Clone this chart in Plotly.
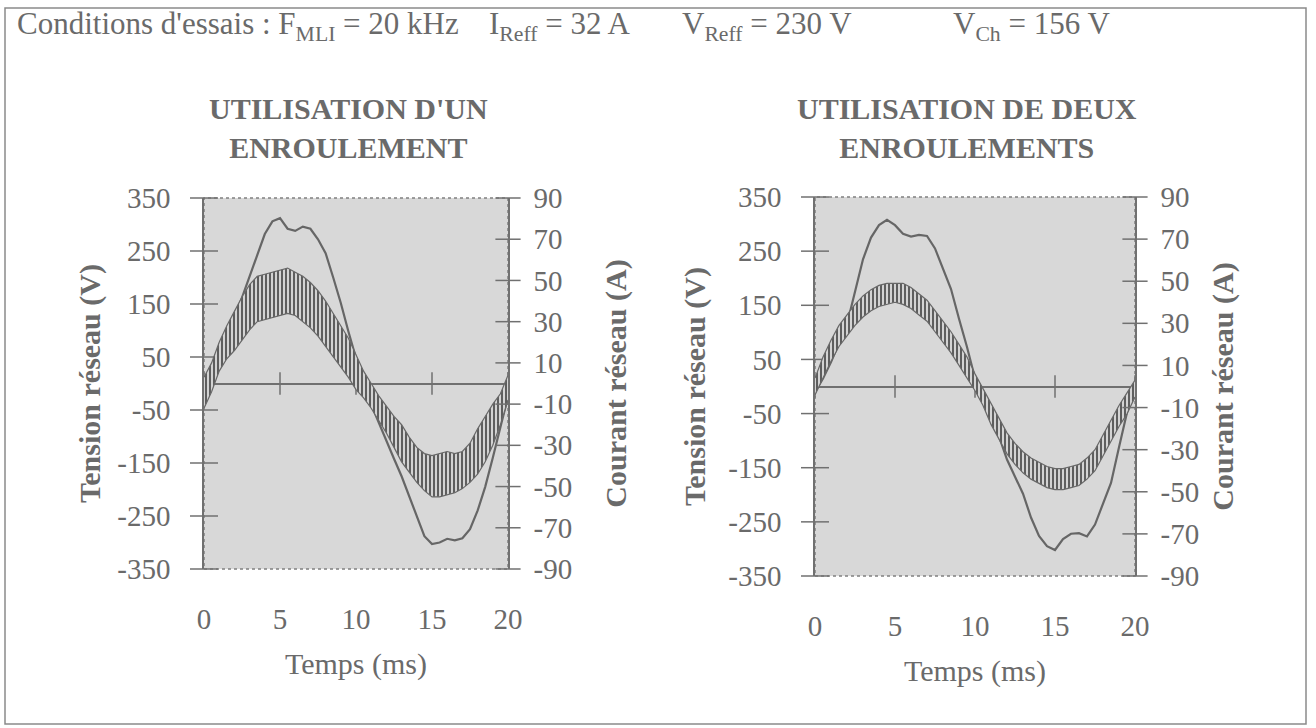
import plotly.graph_objects as go

W, H = 1316, 728

# ---------------- data ----------------
time_ms = [0, 0.5, 1, 1.5, 2, 2.5, 3, 3.5, 4, 4.5, 5, 5.5, 6, 6.5, 7, 7.5, 8, 8.5, 9, 9.5,
           10, 10.5, 11, 11.5, 12, 12.5, 13, 13.5, 14, 14.5, 15, 15.5, 16, 16.5, 17, 17.5,
           18, 18.5, 19, 19.5, 20]

# one winding
v_one = [-18, 18, 55, 88, 122, 162, 200, 243, 282, 306, 312, 292, 288, 296, 292, 272, 246, 200, 152, 98,
         49, -2, -40, -75, -108, -142, -175, -212, -250, -288, -303, -300, -293, -296, -292, -275,
         -240, -195, -140, -85, -25]
i_one_upper = [3, 10, 20, 28, 35, 42, 48, 52, 53, 54, 55, 56, 54, 52, 49, 45, 40, 34, 28, 22,
               14, 6, 0, -6, -11, -16, -20, -26, -31, -34, -35, -34, -33, -34, -33, -29,
               -22, -16, -10, -5, 4]
i_one_lower = [-12, -4, 6, 12, 16, 21, 26, 30, 31, 32, 33, 34, 33, 30, 27, 23, 18, 13, 8, 3,
               -3, -7, -12, -18, -24, -31, -38, -43, -48, -52, -55, -55, -54, -53, -51, -48,
               -44, -38, -30, -20, -8]

# two windings
v_two = [-10, 15, 45, 80, 115, 175, 235, 275, 298, 308, 298, 282, 277, 280, 278, 255, 218, 180, 125, 73,
         15, -25, -55, -92, -135, -168, -198, -242, -276, -295, -302, -282, -272, -271, -277, -255,
         -215, -178, -112, -48, -6]
i_two_upper = [4, 14, 22, 29, 34, 39, 43, 46, 48, 49, 49, 49, 47, 44, 41, 36, 31, 26, 20, 14,
               6, -1, -8, -15, -22, -27, -31, -34, -36, -38, -39, -39, -38, -37, -34, -30,
               -23, -16, -9, -3, 3]
i_two_lower = [-4, 4, 12, 19, 24, 29, 33, 36, 38, 39, 40, 39, 37, 34, 31, 26, 21, 16, 10, 4,
               -2, -9, -18, -25, -32, -37, -41, -44, -46, -48, -49, -49, -48, -47, -44, -40,
               -33, -26, -19, -13, -5]

x_ticks = [0, 5, 10, 15, 20]
v_ticks = [-350, -250, -150, -50, 50, 150, 250, 350]
i_ticks = [-90, -70, -50, -30, -10, 10, 30, 50, 70, 90]

panel_titles = ["UTILISATION D'UN<br>ENROULEMENT", "UTILISATION DE DEUX<br>ENROULEMENTS"]
x_title = "Temps (ms)"
v_title = "Tension réseau (V)"
i_title = "Courant réseau (A)"

# ---------------- style ----------------
FONT = "Liberation Serif"
TXT = "#6a6a6a"
LINE = "#707070"
BG = "#d8d8d8"

fig = go.Figure()

panels = [
    dict(v=v_one, up=i_one_upper, lo=i_one_lower, xa="x", ya="y", yb="y2"),
    dict(v=v_two, up=i_two_upper, lo=i_two_lower, xa="x2", ya="y3", yb="y4"),
]

for p in panels:
    fig.add_trace(go.Scatter(x=time_ms, y=p["v"], xaxis=p["xa"], yaxis=p["ya"], mode="lines",
                             line=dict(color="#666666", width=2.2), hoverinfo="skip"))
    # zero-line ticks
    fig.add_trace(go.Scatter(x=x_ticks, y=[0] * len(x_ticks), xaxis=p["xa"], yaxis=p["ya"], mode="markers",
                             marker=dict(symbol="line-ns", size=16, line=dict(color=LINE, width=1.5)),
                             cliponaxis=False, hoverinfo="skip"))
    # left axis crossing ticks
    fig.add_trace(go.Scatter(x=[x_ticks[0]] * len(v_ticks), y=v_ticks, xaxis=p["xa"], yaxis=p["ya"],
                             mode="markers", cliponaxis=False, hoverinfo="skip",
                             marker=dict(symbol="line-ew", size=20, line=dict(color=LINE, width=1.5))))
    # current band
    fig.add_trace(go.Scatter(x=time_ms, y=p["lo"], xaxis=p["xa"], yaxis=p["yb"], mode="lines",
                             line=dict(color="#686868", width=1.2), hoverinfo="skip"))
    fig.add_trace(go.Scatter(x=time_ms, y=p["up"], xaxis=p["xa"], yaxis=p["yb"], mode="lines",
                             line=dict(color="#686868", width=1.2), fill="tonexty",
                             fillpattern=dict(shape="|", fgcolor="#5e5e5e", bgcolor="#e0e0e0",
                                              size=4, solidity=0.55),
                             hoverinfo="skip"))
    # right axis crossing ticks
    fig.add_trace(go.Scatter(x=[x_ticks[-1]] * len(i_ticks), y=i_ticks, xaxis=p["xa"], yaxis=p["yb"],
                             mode="markers", cliponaxis=False, hoverinfo="skip",
                             marker=dict(symbol="line-ew", size=18, line=dict(color=LINE, width=1.5))))

tickfont = dict(family=FONT, size=29, color=TXT)
titlefont_b = dict(family=FONT, size=30, color=TXT, weight="bold")


def xa(domain, anchor):
    return dict(domain=domain, anchor=anchor, range=[x_ticks[0], x_ticks[-1]], tickvals=x_ticks,
                ticktext=[str(v) for v in x_ticks],
                ticks="", showline=False, showgrid=False, zeroline=False, automargin=False,
                tickfont=tickfont, ticklabelstandoff=30,
                title=dict(text=x_title, font=dict(family=FONT, size=30, color=TXT), standoff=18))


def ya(domain, anchor, standoff):
    return dict(domain=domain, anchor=anchor, range=[v_ticks[0], v_ticks[-1]], tickvals=v_ticks,
                ticktext=[str(v) for v in v_ticks],
                ticks="", showline=True, linecolor=LINE, linewidth=1.5, showgrid=False,
                zeroline=True, zerolinecolor=LINE, zerolinewidth=1.5, automargin=False,
                tickfont=tickfont, ticklabelstandoff=26,
                title=dict(text=v_title, font=titlefont_b, standoff=standoff))


def yb(overlay, anchor, standoff):
    return dict(overlaying=overlay, anchor=anchor, side="right", range=[i_ticks[0], i_ticks[-1]],
                tickvals=i_ticks, ticktext=[str(v) for v in i_ticks],
                ticks="", showline=True, linecolor=LINE, linewidth=1.5,
                showgrid=False, zeroline=False, automargin=False, tickfont=tickfont,
                ticklabelstandoff=18, title=dict(text=i_title, font=titlefont_b, standoff=standoff))


d1x = [204 / W, 508 / W]
d1y = [(H - 569) / H, (H - 198) / H]
d2x = [815 / W, 1135 / W]
d2y = [(H - 576) / H, (H - 197) / H]

fig.update_layout(
    template="none",
    width=W, height=H, margin=dict(l=0, r=0, t=0, b=0),
    paper_bgcolor="white", plot_bgcolor=BG, showlegend=False,
    font=dict(family=FONT, color=TXT),
    xaxis=xa(d1x, "y"), yaxis=ya(d1y, "x", 8), yaxis2=yb("y", "x", 34),
    xaxis2=xa(d2x, "y3"), yaxis3=ya(d2y, "x2", 14), yaxis4=yb("y3", "x2", 14),
)

# plot area borders (stippled edge) and outer frame
for xr, yr in [("x domain", "y domain"), ("x2 domain", "y3 domain")]:
    fig.add_shape(type="rect", xref=xr, yref=yr, x0=0, x1=1, y0=0, y1=1,
                  line=dict(color="#808080", width=1.5, dash="dot"), layer="below")
fig.add_shape(type="rect", xref="paper", yref="paper", x0=5 / W, x1=1306 / W, y0=1 - 724 / H, y1=1 - 8 / H,
              line=dict(color="#8a8a8a", width=1.5))

# panel titles
for txt, cx in zip(panel_titles, [348, 967]):
    fig.add_annotation(text=txt, x=cx / W, y=1 - 128 / H, xref="paper", yref="paper",
                       xanchor="center", yanchor="middle", showarrow=False,
                       font=dict(family=FONT, size=30, color=TXT, weight="bold"))

# header
header = [
    ("Conditions d'essais : F<sub>MLI</sub> = 20 kHz", 15),
    ("I<sub>Reff</sub> = 32 A", 487),
    ("V<sub>Reff</sub> = 230 V", 680),
    ("V<sub>Ch</sub> = 156 V", 951),
]
for txt, x0 in header:
    fig.add_annotation(text=txt, x=x0 / W, y=1 - 26 / H, xref="paper", yref="paper",
                       xanchor="left", yanchor="middle", showarrow=False,
                       font=dict(family=FONT, size=31, color=TXT))

fig.write_html("out.html", config={"displayModeBar": False},
               post_script="document.body.style.margin='0';")
